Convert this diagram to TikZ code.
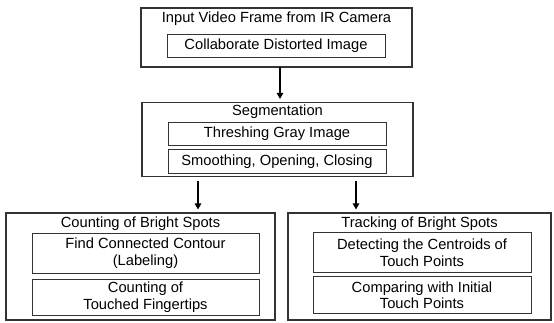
\documentclass[tikz,border=0pt]{standalone}
\usepackage{fontspec}
\setmainfont{Liberation Sans}
\usetikzlibrary{arrows.meta}
\begin{document}
\begin{tikzpicture}[x=1pt,y=-1pt,
  outerbox/.style={draw=black!80,line width=1.1pt,minimum width=#1,inner sep=0pt},
  innerbox/.style={draw=black!80,line width=0.9pt,inner sep=0pt,align=center,font=\fontsize{14.7}{16.5}\selectfont},
  title/.style={inner sep=0pt,font=\fontsize{14.7}{16.5}\selectfont},
  arr/.style={line width=1.4pt,-{Triangle[length=6pt,width=6.5pt]}}]
\useasboundingbox (0,0) rectangle (554,322);
% box 1
\node[outerbox=271pt,minimum height=59pt] (b1) at (276.5,37.5) {};
\node[title] (t1) at (276.5,18.5) {Input Video Frame from IR Camera};
\node[innerbox,minimum width=218pt,minimum height=23.5pt] (i11) at (276,45.8) {Collaborate Distorted Image};
% box 2
\node[outerbox=271pt,minimum height=74pt] (b2) at (277.5,139.5) {};
\node[title] (t2) at (277.5,111.5) {Segmentation};
\node[innerbox,minimum width=218pt,minimum height=23pt] (i21) at (277,134) {Threshing Gray Image};
\node[innerbox,minimum width=218pt,minimum height=23.4pt] (i22) at (277,161.3) {Smoothing, Opening, Closing};
% box 3
\node[outerbox=269pt,minimum height=107pt] (b3) at (140.5,266.5) {};
\node[title] (t3) at (140.5,224) {Counting of Bright Spots};
\node[innerbox,minimum width=227pt,minimum height=40pt] (i31) at (145.5,253) {Find Connected Contour\\(Labeling)};
\node[innerbox,minimum width=227pt,minimum height=36pt] (i32) at (145.5,297) {Counting of\\Touched Fingertips};
% box 4
\node[outerbox=263pt,minimum height=107pt] (b4) at (419.5,266.5) {};
\node[title] (t4) at (419.5,224) {Tracking of Bright Spots};
\node[innerbox,minimum width=218pt,minimum height=40pt] (i41) at (422,252.6) {Detecting the Centroids of\\Touch Points};
\node[innerbox,minimum width=218pt,minimum height=37pt] (i42) at (422,295) {Comparing with Initial\\Touch Points};
% arrows
\coordinate (a1s) at (280,67);
\coordinate (a2s) at (198,180.5);
\coordinate (a3s) at (356,180.5);
\draw[arr,shorten >=3pt] (a1s) -- (a1s |- b2.north);
\draw[arr,shorten >=3pt] (a2s) -- (a2s |- b3.north);
\draw[arr,shorten >=3pt] (a3s) -- (a3s |- b4.north);
\end{tikzpicture}
\end{document}
